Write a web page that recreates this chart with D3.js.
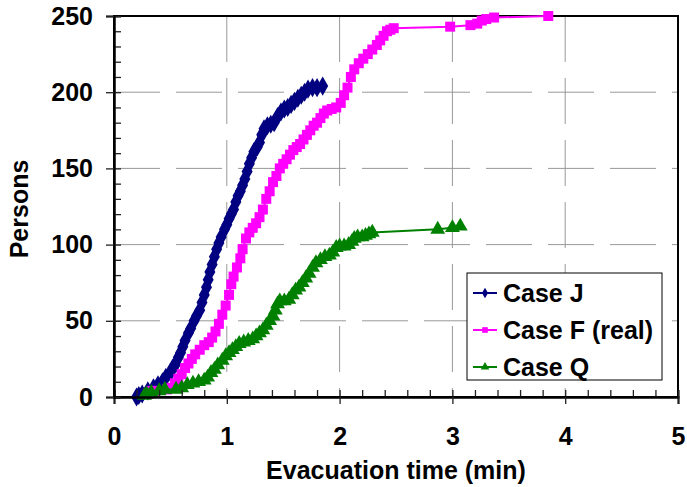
<!DOCTYPE html>
<html>
<head>
<meta charset="utf-8">
<script src="https://cdn.jsdelivr.net/npm/d3@7"></script>
<style>
  body { margin: 0; background: #fff; }
  text { font-family: "Liberation Sans", Arial, sans-serif; font-weight: bold; }
</style>
</head>
<body>
<div id="chart"></div>
<script>
// data: [time (min), persons]
var caseJ = [[0.20,0],[0.22,1],[0.25,2],[0.30,4],[0.35,6],[0.39,8],[0.43,10],[0.46,13],[0.50,16],
  [0.52,19],[0.55,22],[0.57,26],[0.59,29],[0.61,33],[0.63,37],[0.66,42],[0.68,45],[0.71,50],[0.73,53],
  [0.76,57],[0.78,62],[0.80,67],[0.82,72],[0.835,77],[0.85,82],[0.87,87],[0.89,92],[0.91,97],[0.93,101],
  [0.95,105],[0.98,110],[1.00,113],[1.02,117],[1.04,120],[1.06,123],[1.08,128],[1.10,132],[1.12,135],
  [1.14,139],[1.16,143],[1.18,148],[1.20,153],[1.22,157],[1.24,161],[1.27,164],[1.29,167],[1.31,172],
  [1.33,176],[1.36,178],[1.39,179],[1.42,180],[1.45,184],[1.48,187],[1.51,189],[1.54,190],[1.57,192],
  [1.60,194],[1.63,196],[1.66,198],[1.69,200],[1.72,202],[1.76,203],[1.80,203],[1.85,204]];

var caseF = [[0.30,2],[0.33,4],[0.36,4],[0.47,5],[0.51,6],[0.54,9],[0.57,12],[0.60,15],[0.63,19],
  [0.66,22],[0.69,25],[0.72,28],[0.76,31],[0.80,34],[0.84,36],[0.87,39],[0.90,43],[0.93,48],[0.96,54],
  [0.99,60],[1.02,67],[1.04,74],[1.06,79],[1.09,85],[1.12,91],[1.14,97],[1.17,104],[1.20,108],[1.23,111],
  [1.26,114],[1.29,118],[1.32,123],[1.35,130],[1.38,135],[1.41,141],[1.44,145],[1.47,150],[1.50,153],
  [1.53,156],[1.56,159],[1.59,162],[1.62,164],[1.65,166],[1.68,169],[1.71,172],[1.74,175],[1.77,178],
  [1.80,180],[1.83,183],[1.86,186],[1.89,188],[1.93,189],[1.97,190],[2.01,193],[2.04,198],[2.07,203],
  [2.10,210],[2.13,215],[2.17,219],[2.21,222],[2.25,225],[2.29,228],[2.33,231],[2.36,234],[2.39,237],
  [2.42,240],[2.45,241],[2.48,242],[2.98,243],[3.16,244],[3.22,245],[3.26,247],[3.30,248],[3.37,249],
  [3.85,250]];

var caseQ = [[0.27,1],[0.29,2],[0.33,3],[0.40,4],[0.45,5],[0.55,5],[0.60,6],[0.65,8],[0.70,9],[0.75,10],
  [0.80,11],[0.83,13],[0.86,16],[0.89,18],[0.92,21],[0.96,24],[0.99,27],[1.02,29],[1.05,31],[1.08,33],
  [1.11,35],[1.15,36],[1.19,37],[1.23,38],[1.26,40],[1.29,42],[1.32,44],[1.35,47],[1.38,50],[1.41,53],
  [1.43,57],[1.45,61],[1.47,63],[1.51,63],[1.55,64],[1.58,67],[1.61,70],[1.64,72],[1.67,75],[1.70,78],
  [1.73,81],[1.76,85],[1.79,88],[1.83,90],[1.87,92],[1.91,93],[1.94,95],[1.97,98],[2.00,99],[2.04,99],
  [2.08,100],[2.11,102],[2.13,104],[2.16,105],[2.20,105],[2.23,106],[2.26,107],[2.29,108],[2.87,110],
  [3.00,111],[3.07,112]];

var seriesNames = ["Case J", "Case F (real)", "Case Q"];
var xTicks = [0, 1, 2, 3, 4, 5];
var yTicks = [0, 50, 100, 150, 200, 250];

var width = 687, height = 487;
var margin = {top: 16, right: 8, bottom: 90, left: 114};
var colors = ["#000080", "#ff00ff", "#008000"];
var symbols = [d3.symbolDiamond, d3.symbolSquare, d3.symbolTriangle];
var sizes = [105, 100, 95];
var fontSize = "25px";

var svg = d3.select("#chart").append("svg")
  .attr("width", width)
  .attr("height", height);

var scaleX = d3.scaleLinear().domain([0, 5]).range([margin.left, width - margin.right - 1]);
var scaleY = d3.scaleLinear().domain([0, 250]).range([height - margin.bottom, margin.top]);

// gridlines
var grid = svg.append("g");
grid.selectAll(".vgrid")
  .data(xTicks.slice(1, -1))
  .enter().append("line")
  .attr("x1", d => scaleX(d)).attr("x2", d => scaleX(d))
  .attr("y1", scaleY(250)).attr("y2", scaleY(0))
  .attr("stroke", "#999").attr("stroke-dasharray", "46,16");
grid.selectAll(".hgrid")
  .data(yTicks.slice(1, -1))
  .enter().append("line")
  .attr("x1", scaleX(0)).attr("x2", scaleX(5))
  .attr("y1", d => scaleY(d)).attr("y2", d => scaleY(d))
  .attr("stroke", "#999").attr("stroke-dasharray", "46,16");

// plot border
svg.append("rect")
  .attr("x", scaleX(0)).attr("y", scaleY(250))
  .attr("width", scaleX(5) - scaleX(0)).attr("height", scaleY(0) - scaleY(250))
  .attr("fill", "none").attr("stroke", "#000").attr("stroke-width", 2);

// series
var line = d3.line().x(d => scaleX(d[0])).y(d => scaleY(d[1]));
[caseJ, caseF, caseQ].forEach(function(data, i) {
  var g = svg.append("g");
  g.append("path")
    .datum(data)
    .attr("d", line)
    .attr("fill", "none")
    .attr("stroke", colors[i])
    .attr("stroke-width", 2);
  g.selectAll("path.mark")
    .data(data)
    .enter().append("path")
    .attr("class", "mark")
    .attr("transform", d => "translate(" + scaleX(d[0]) + "," + scaleY(d[1]) + ")")
    .attr("d", d3.symbol().type(symbols[i]).size(sizes[i]))
    .attr("fill", colors[i]);
});

// axes: major ticks cross the line, minor ticks inside
var minorX = d3.range(0, 5.01, 0.2);
var minorY = d3.range(0, 251, 10);

svg.append("g")
  .attr("transform", "translate(0," + scaleY(0) + ")")
  .call(d3.axisBottom(scaleX).tickValues(minorX).tickSize(-7).tickFormat(""));
svg.append("g")
  .attr("transform", "translate(0," + scaleY(0) + ")")
  .call(d3.axisBottom(scaleX).tickValues(xTicks).tickSize(7).tickPadding(23).tickFormat(d3.format("d")));

svg.append("g")
  .attr("transform", "translate(" + scaleX(0) + ",0)")
  .call(d3.axisLeft(scaleY).tickValues(minorY).tickSize(-7).tickFormat(""));
svg.append("g")
  .attr("transform", "translate(" + scaleX(0) + ",0)")
  .call(d3.axisLeft(scaleY).tickValues(yTicks).tickSize(8).tickPadding(13));

svg.selectAll(".domain").attr("stroke", "#000").attr("stroke-width", 2);
svg.selectAll(".tick line").attr("stroke", "#222").attr("stroke-width", 1.3);
svg.selectAll(".tick text")
  .attr("fill", "#000")
  .style("font-size", fontSize)
  .style("font-family", "'Liberation Sans', Arial, sans-serif")
  .style("font-weight", "bold");

// axis titles
svg.append("text")
  .attr("x", (scaleX(0) + scaleX(5)) / 2)
  .attr("y", 479)
  .attr("text-anchor", "middle")
  .style("font-size", fontSize)
  .text("Evacuation time (min)");

svg.append("text")
  .attr("transform", "translate(28," + 209 + ") rotate(-90)")
  .attr("text-anchor", "middle")
  .style("font-size", fontSize)
  .text("Persons");

// legend
var legend = svg.append("g").attr("transform", "translate(467,273)");
legend.append("rect")
  .attr("width", 195).attr("height", 107)
  .attr("fill", "#fff").attr("stroke", "#000").attr("stroke-width", 1);
seriesNames.forEach(function(name, i) {
  var y = 20 + i * 37;
  legend.append("line")
    .attr("x1", 6).attr("x2", 30).attr("y1", y).attr("y2", y)
    .attr("stroke", colors[i]).attr("stroke-width", 2);
  legend.append("path")
    .attr("transform", "translate(18," + y + ")")
    .attr("d", d3.symbol().type(symbols[i]).size(32))
    .attr("fill", colors[i]);
  legend.append("text")
    .attr("x", 36).attr("y", y + 9)
    .style("font-size", fontSize)
    .text(name);
});
</script>
</body>
</html>
